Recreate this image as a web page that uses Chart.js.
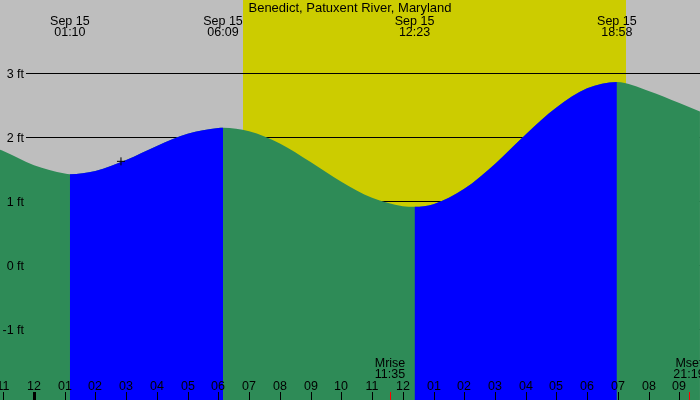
<!DOCTYPE html>
<html>
<head>
<meta charset="utf-8">
<script src="https://cdn.jsdelivr.net/npm/chart.js@4.4.1/dist/chart.umd.min.js"></script>
<style>
  html, body { margin: 0; padding: 0; background: #bebebe; }
  #tide { display: block; }
</style>
</head>
<body>
<canvas id="tide" width="700" height="400"></canvas>
<script>
// hours since midnight Sep 15, water level in feet
var tideHours = [-1.11, -1, 0, 1, 1.167, 2, 3, 4, 5, 6, 6.15, 7, 8, 9, 10, 11, 12, 12.383,
                 13, 14, 15, 16, 17, 18, 18.967, 20, 21, 21.67];
var tideFeet  = [1.80, 1.78, 1.56, 1.43, 1.42, 1.47, 1.64, 1.86, 2.05, 2.14, 2.145, 2.09, 1.90, 1.61,
                 1.30, 1.05, 0.92, 0.91, 0.95, 1.19, 1.58, 2.04, 2.46, 2.76, 2.86, 2.72, 2.53, 2.40];

// high / low water
var extremeHours  = [1.167, 6.15, 12.383, 18.967];
var extremeLabels = ['01:10', '06:09', '12:23', '18:58'];
var extremeDate   = 'Sep 15';

// daylight
var sunHours = [6.81, 19.26];

// moon rise / set
var moonHours  = [11.583, 21.317];
var moonNames  = ['Mrise', 'Mset'];
var moonLabels = ['11:35', '21:19'];

// marker
var markHours = [2.83];
var markFeet  = [1.62];

// axes
var feetTicks  = [3, 2, 1, 0, -1];
var hourTicks  = [-1, 0, 1, 2, 3, 4, 5, 6, 7, 8, 9, 10, 11, 12, 13, 14, 15, 16, 17, 18, 19, 20, 21];
var hourLabels = ['11', '12', '01', '02', '03', '04', '05', '06', '07', '08', '09', '10', '11',
                  '12', '01', '02', '03', '04', '05', '06', '07', '08', '09'];

var title = 'Benedict, Patuxent River, Maryland';

var FONT = '"Liberation Sans", Arial, sans-serif';
var GREEN = '#2e8b57', BLUE = '#0000ff';

var decor = {
  id: 'decor',
  beforeDatasetsDraw: function(chart) {
    var c = chart.ctx, xs = chart.scales.x, ys = chart.scales.y;
    c.save();
    c.fillStyle = '#bebebe';
    c.fillRect(0, 0, chart.width, chart.height);
    c.fillStyle = '#cccc00';
    var x0 = Math.round(xs.getPixelForValue(sunHours[0]));
    var x1 = Math.round(xs.getPixelForValue(sunHours[1]));
    c.fillRect(x0, 0, x1 - x0, chart.height);
    c.strokeStyle = '#000';
    c.lineWidth = 1;
    feetTicks.forEach(function(f) {
      var y = Math.round(ys.getPixelForValue(f)) + 0.5;
      c.beginPath();
      c.moveTo(26, y);
      c.lineTo(chart.width, y);
      c.stroke();
    });
    c.restore();
  },
  afterDatasetsDraw: function(chart) {
    var c = chart.ctx, xs = chart.scales.x, ys = chart.scales.y;
    c.save();
    c.fillStyle = '#000';
    c.textBaseline = 'alphabetic';
    c.font = '12.5px ' + FONT;

    // y labels
    c.textAlign = 'right';
    feetTicks.forEach(function(f) {
      c.fillText(f + ' ft', 24, ys.getPixelForValue(f) + 4.5);
    });

    // title
    c.textAlign = 'center';
    c.font = '13px ' + FONT;
    c.fillText(title, 350, 12);

    // extremes
    c.font = '12.5px ' + FONT;
    extremeHours.forEach(function(h, i) {
      var x = xs.getPixelForValue(h);
      c.fillText(extremeDate, x, 25);
      c.fillText(extremeLabels[i], x, 36);
    });

    // hour ticks
    hourTicks.forEach(function(h, i) {
      var x = Math.round(xs.getPixelForValue(h));
      c.fillStyle = '#000';
      c.fillText(hourLabels[i], x, 390);
      var w = (h % 24 === 0) ? 3 : 1;
      c.fillRect(x - Math.floor(w / 2), 392, w, 8);
    });

    // moon
    moonHours.forEach(function(h, i) {
      var x = Math.round(xs.getPixelForValue(h));
      c.fillStyle = '#000';
      c.fillText(moonNames[i], x, 367);
      c.fillText(moonLabels[i], x, 378);
      c.fillStyle = '#ff0000';
      c.fillRect(x, 392, 1, 8);
    });
    c.restore();
  }
};

var tidePoints = tideHours.map(function(h, i) { return { x: h, y: tideFeet[i] }; });
var tidePoints2 = tideHours.map(function(h, i) { return { x: h, y: tideFeet[i] }; });

var ctx = document.getElementById('tide').getContext('2d');

// Chart.js paints the first dataset on top, so the order is: marker, rising, falling
var tideChart = new Chart(ctx, {
  type: 'line',
  data: {
    datasets: [{
      type: 'scatter',
      data: markHours.map(function(h, i) { return { x: h, y: markFeet[i] }; }),
      pointStyle: 'cross',
      pointRadius: 4,
      borderColor: '#000',
      borderWidth: 1,
      showLine: false
    }, {
      // rising water
      data: tidePoints,
      fill: 'start',
      borderWidth: 0,
      borderColor: 'rgba(0,0,0,0)',
      backgroundColor: BLUE,
      pointRadius: 0,
      cubicInterpolationMode: 'monotone',
      segment: {
        backgroundColor: function(s) {
          return s.p1.parsed.y > s.p0.parsed.y ? BLUE : 'rgba(0,0,0,0)';
        }
      }
    }, {
      // falling water, whole curve underneath
      data: tidePoints2,
      fill: 'start',
      borderWidth: 0,
      borderColor: 'rgba(0,0,0,0)',
      backgroundColor: GREEN,
      pointRadius: 0,
      cubicInterpolationMode: 'monotone'
    }]
  },
  options: {
    responsive: false,
    animation: false,
    devicePixelRatio: 1,
    layout: { padding: 0, autoPadding: false },
    plugins: { legend: { display: false }, tooltip: { enabled: false } },
    scales: {
      x: { type: 'linear', display: false, min: -1.1064, max: 21.672 },
      y: { type: 'linear', display: false, min: -2.109, max: 4.1406 }
    }
  },
  plugins: [decor]
});
</script>
</body>
</html>
